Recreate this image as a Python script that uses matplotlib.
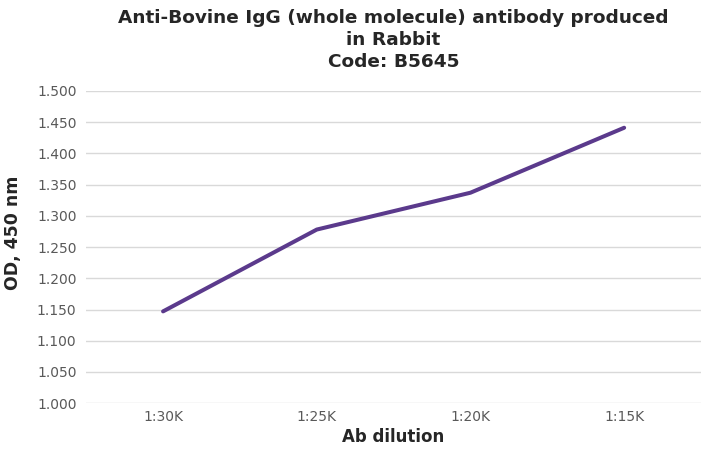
import matplotlib
matplotlib.use("Agg")
import matplotlib.pyplot as plt

# data
dilutions = ["1:30K", "1:25K", "1:20K", "1:15K"]
od_values = [1.147, 1.278, 1.337, 1.441]
y_ticks = [1.000, 1.050, 1.100, 1.150, 1.200, 1.250, 1.300, 1.350, 1.400, 1.450, 1.500]

plt.rcParams['font.family'] = ['DejaVu Sans']

fig = plt.figure(figsize=(7.01, 4.5), dpi=100)
ax = fig.add_axes([0.123, 0.104, 0.877, 0.694])

x = list(range(len(dilutions)))
ax.plot(x, od_values, color="#5b3a8c", linewidth=2.9, solid_capstyle="round", zorder=3)

ax.set_xlim(-0.5, 3.5)
ax.set_ylim(1.0, 1.5)
ax.set_yticks(y_ticks)
ax.set_yticklabels(["%.3f" % v for v in y_ticks])
ax.set_xticks(x)
ax.set_xticklabels(dilutions)

ax.grid(True, axis="y", color="#d9d9d9", linewidth=1.0)
ax.set_axisbelow(True)
for s in ax.spines.values():
    s.set_visible(False)
ax.tick_params(length=0, labelsize=10, labelcolor="#595959")
ax.tick_params(axis="x", pad=5)
ax.tick_params(axis="y", pad=7)

ax.set_xlabel("Ab dilution", fontsize=12, fontweight="bold", color="#262626", labelpad=3)
ax.set_ylabel("OD, 450 nm", fontsize=12.5, fontweight="bold", color="#262626", labelpad=10)
ax.yaxis.set_label_coords(-0.105, 0.545)
ax.set_title("Anti-Bovine IgG (whole molecule) antibody produced\nin Rabbit\nCode: B5645",
             fontsize=13.3, fontweight="bold", color="#262626", pad=17, linespacing=1.3)

fig.savefig("out.png", dpi=100)
